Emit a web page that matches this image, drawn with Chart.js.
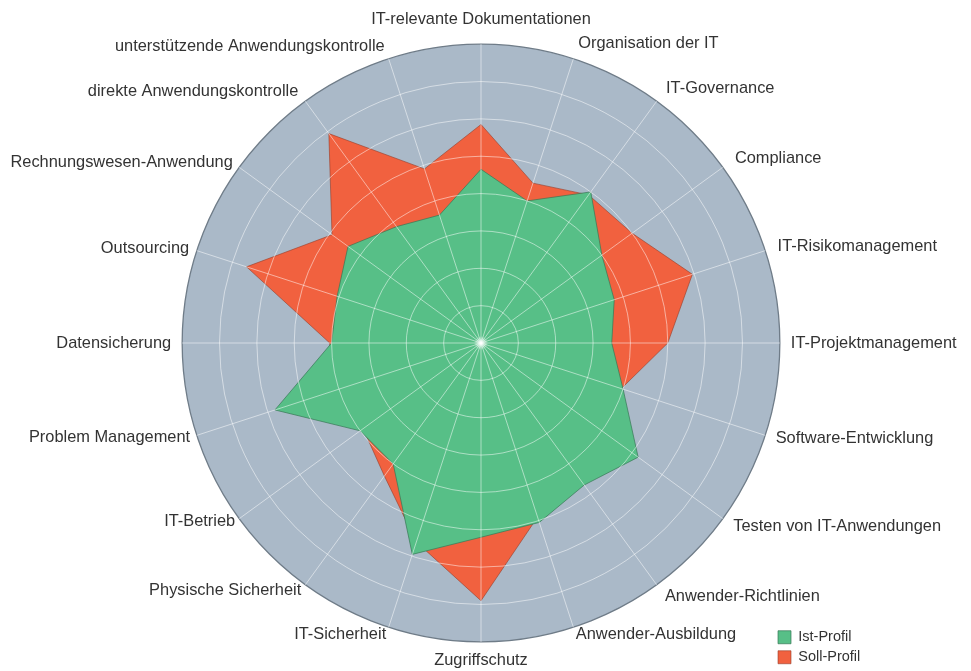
<!DOCTYPE html>
<html>
<head>
<meta charset="utf-8">
<script src="https://cdn.jsdelivr.net/npm/chart.js@4.4.1/dist/chart.umd.min.js"></script>
<style>
  html, body { margin: 0; padding: 0; background: #ffffff; }
  #wrap { width: 971px; height: 671px; position: relative; }
</style>
</head>
<body>
<div id="wrap"><canvas id="myChart"></canvas></div>
<script>
var categories = [
  "IT-relevante Dokumentationen",
  "Organisation der IT",
  "IT-Governance",
  "Compliance",
  "IT-Risikomanagement",
  "IT-Projektmanagement",
  "Software-Entwicklung",
  "Testen von IT-Anwendungen",
  "Anwender-Richtlinien",
  "Anwender-Ausbildung",
  "Zugriffschutz",
  "IT-Sicherheit",
  "Physische Sicherheit",
  "IT-Betrieb",
  "Problem Management",
  "Datensicherung",
  "Outsourcing",
  "Rechnungswesen-Anwendung",
  "direkte Anwendungskontrolle",
  "unterstützende Anwendungskontrolle"
];
var seriesNames = ["Ist-Profil", "Soll-Profil"];
var istValues  = [4.65, 4.0, 5.0, 4.0, 3.75, 3.5, 4.0, 5.2, 4.7, 5.05, 5.2, 5.95, 4.0, 4.0, 5.8, 4.0, 4.05, 4.4, 3.85, 3.6];
var sollValues = [5.85, 4.5, 4.9, 5.0, 5.95, 5.0, 3.95, 4.5, 4.4, 4.9, 6.9, 5.6, 4.4, 3.9, 4.2, 4.05, 6.6, 4.93, 6.93, 4.9];
var scaleMax = 8;

// distance of each category label from the outer ring (labels are centred on that point)
var labelGap = [25, 16, 16, 15, 13, 11, 11, 13, 14, 8, 19, 8, 7, 5, 7, 11, 8, 8, 12, 13];

// blue-grey disc behind the polygons, grid is drawn on top (grid.z = 1)
var discPlugin = {
  id: 'disc',
  beforeDatasetsDraw: function(chart) {
    var s = chart.scales.r;
    var ctx = chart.ctx;
    ctx.save();
    ctx.beginPath();
    ctx.arc(s.xCenter, s.yCenter, s.drawingArea, 0, Math.PI * 2);
    ctx.fillStyle = '#aab9c8';
    ctx.fill();
    ctx.restore();
  },
  afterDraw: function(chart) {
    // little white glow where the spokes meet
    var s = chart.scales.r;
    var ctx = chart.ctx;
    var g = ctx.createRadialGradient(s.xCenter, s.yCenter, 0, s.xCenter, s.yCenter, 7);
    g.addColorStop(0, 'rgba(255,255,255,1)');
    g.addColorStop(1, 'rgba(255,255,255,0)');
    ctx.save();
    ctx.fillStyle = g;
    ctx.beginPath();
    ctx.arc(s.xCenter, s.yCenter, 7, 0, Math.PI * 2);
    ctx.fill();
    ctx.restore();
  }
};

// legend sits in the lower right corner, outside the layout
var legendCorner = {
  id: 'legendCorner',
  afterLayout: function(chart) {
    var lg = chart.legend;
    if (!lg) return;
    lg.left = 772.5;
    lg.right = 971;
    lg.top = 624.5;
    lg.bottom = 671;
  }
};

new Chart("myChart", {
  type: "radar",
  data: {
    labels: categories,
    datasets: [{
      label: seriesNames[0],
      data: istValues,
      backgroundColor: "#57bf87",
      borderColor: "rgba(55,120,85,0.7)",
      borderWidth: 1,
      fill: true,
      pointRadius: 0
    }, {
      label: seriesNames[1],
      data: sollValues,
      backgroundColor: "#f1613f",
      borderColor: "rgba(150,60,40,0.6)",
      borderWidth: 1,
      fill: true,
      pointRadius: 0
    }]
  },
  options: {
    responsive: true,
    maintainAspectRatio: false,
    animation: false,
    layout: {
      padding: { top: 16, bottom: 7, left: 0, right: 0 }
    },
    elements: { line: { tension: 0 } },
    scales: {
      r: {
        min: 0,
        max: scaleMax,
        ticks: { display: false, stepSize: 1 },
        grid: {
          circular: true,
          z: 1,
          color: function(c) {
            return c.tick && c.tick.value === scaleMax ? '#6f7c88' : 'rgba(255,255,255,0.5)';
          },
          lineWidth: function(c) {
            return c.tick && c.tick.value === scaleMax ? 1.3 : 1;
          }
        },
        angleLines: { color: 'rgba(255,255,255,0.5)', lineWidth: 1 },
        pointLabels: {
          color: '#333333',
          // near-zero line height so each label is centred on its anchor point
          font: { family: "'Liberation Sans', Arial, sans-serif", size: 16.4, lineHeight: 0.01 },
          padding: function(c) {
            return labelGap[c.index];
          }
        }
      }
    },
    plugins: {
      legend: {
        position: 'chartArea',
        fullSize: false,
        align: 'start',
        labels: {
          boxWidth: 13,
          boxHeight: 13,
          padding: 5.5,
          color: '#333333',
          font: { family: "'Liberation Sans', Arial, sans-serif", size: 14.5 }
        }
      },
      tooltip: { enabled: false }
    }
  },
  plugins: [discPlugin, legendCorner]
});
</script>
</body>
</html>
